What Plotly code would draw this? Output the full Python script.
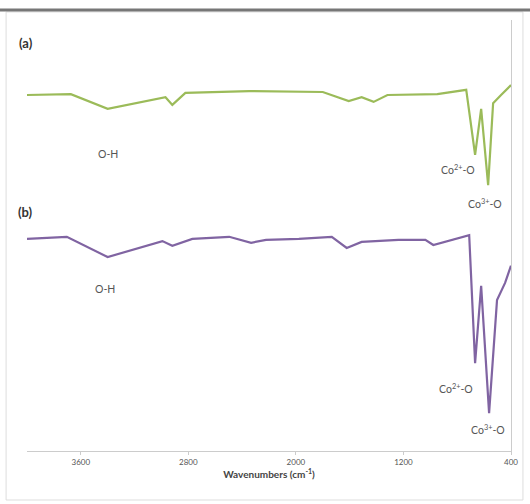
import plotly.graph_objects as go

# Wavenumbers (cm^-1) and transmittance (a.u., %)
wn_a = [4000, 3674, 3400, 2970, 2919, 2822, 2348, 1800, 1607, 1511, 1422, 1319, 948, 733, 667, 622, 570, 533, 474, 400]
t_a = [82.6, 82.8, 79.4, 82.1, 80.3, 83.1, 83.5, 83.3, 81.2, 82.1, 81.0, 82.6, 82.8, 83.8, 68.7, 79.4, 61.7, 80.7, 82.6, 84.9]

wn_b = [4000, 3704, 3400, 2993, 2919, 2770, 2496, 2333, 2222, 1978, 1733, 1622, 1511, 1237, 1037, 978, 711, 667, 622, 563, 504, 444, 400]
t_b = [49.2, 49.7, 45.0, 48.7, 47.6, 49.2, 49.7, 48.3, 49.0, 49.2, 49.7, 47.1, 48.5, 49.0, 49.0, 47.8, 50.1, 20.4, 38.3, 8.8, 35.0, 39.0, 43.0]

tick_vals = [3600, 2800, 2000, 1200, 400]
tick_text = ["3600", "2800", "2000", "1200", "400"]

green = "#9bbb59"
purple = "#8064a2"
FONT = "Lato"

fig = go.Figure()
fig.add_trace(go.Scatter(x=wn_a, y=t_a, mode="lines", line=dict(color=green, width=2.2), showlegend=False))
fig.add_trace(go.Scatter(x=wn_b, y=t_b, mode="lines", line=dict(color=purple, width=2.2), showlegend=False))

lab = dict(showarrow=False, font=dict(family=FONT, size=10.5, color="#555555"), xref="x", yref="y")
anns = [
    dict(x=3400, y=68.9, text="O-H", **lab),
    dict(x=3420, y=37.6, text="O-H", **lab),
    dict(x=793, y=65.2, text="Co<sup>2+</sup>-O", **lab),
    dict(x=593, y=57.5, text="Co<sup>3+</sup>-O", **lab),
    dict(x=808, y=14.6, text="Co<sup>2+</sup>-O", **lab),
    dict(x=570, y=4.9, text="Co<sup>3+</sup>-O", **lab),
    dict(x=-0.02, y=0.97, xref="paper", yref="paper", xanchor="left", showarrow=False,
         text="<b>(a)</b>", font=dict(family=FONT, size=13, color="#333333")),
    dict(x=-0.022, y=0.555, xref="paper", yref="paper", xanchor="left", showarrow=False,
         text="<b>(b)</b>", font=dict(family=FONT, size=13, color="#333333")),
]

shapes = [
    dict(type="rect", xref="paper", yref="paper", x0=-0.0432, x1=1.0247, y0=-0.1137, y1=1.0186,
         line=dict(color="#dddddd", width=1), layer="below"),
    dict(type="line", xref="paper", yref="paper", x0=-0.06, x1=1.04, y0=1.0232, y1=1.0232,
         line=dict(color="#777777", width=3)),
]

fig.update_layout(
    width=530, height=504,
    margin=dict(l=27, r=17, t=20, b=53),
    paper_bgcolor="white", plot_bgcolor="white",
    annotations=anns, shapes=shapes,
    xaxis=dict(range=[4000, 400], tickvals=tick_vals, ticktext=tick_text,
               tickfont=dict(family=FONT, size=8, color="#555555"),
               showgrid=False, zeroline=False, showline=True, linecolor="#cccccc", linewidth=1,
               ticks="outside", ticklen=3, tickcolor="#cccccc",
               title=dict(text="<b>Wavenumbers (cm<sup>-1</sup>)</b>", font=dict(family=FONT, size=10, color="#444444"), standoff=4)),
    yaxis=dict(range=[0, 100], side="right", showline=True, linecolor="#cccccc", linewidth=1,
               showticklabels=False, showgrid=False, zeroline=False, ticks=""),
)

fig.write_html("out.html")
